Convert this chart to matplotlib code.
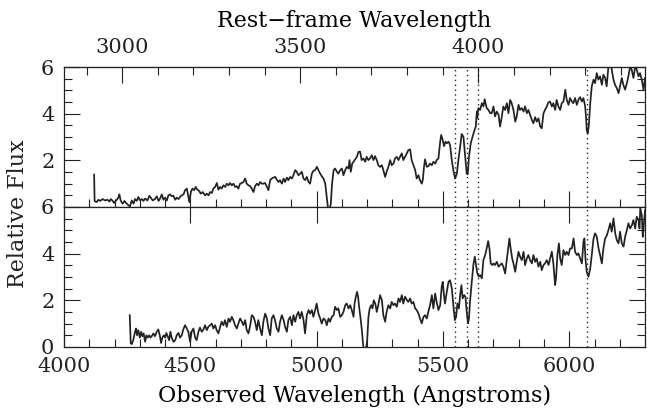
import matplotlib.pyplot as plt
from matplotlib.ticker import MultipleLocator, FixedLocator

# redshift used for the rest-frame axis on top
z = 0.41

# absorption features marked with dotted lines (rest frame, Angstroms)
line_rest = [3933.7, 3968.5, 4000.0, 4304.4]

# rest-frame tick marks on the top axis
rest_major = [3000, 3500, 4000]
rest_minor = [2900, 3100, 3200, 3300, 3400, 3600, 3700, 3800, 3900, 4100, 4200, 4300, 4400]

# (observed wavelength, relative flux) of the upper spectrum
upper_spec = [
    (4119, 1.39), (4121, 0.25), (4129, 0.21), (4136, 0.31), (4143, 0.26), (4153, 0.34),
    (4162, 0.28), (4172, 0.31), (4180, 0.23), (4185, 0.34), (4193, 0.26), (4198, 0.17),
    (4206, 0.28), (4215, 0.40), (4219, 0.54), (4224, 0.28), (4232, 0.14), (4239, 0.26),
    (4246, 0.17), (4255, 0.07), (4261, 0.03), (4268, 0.28), (4275, 0.14), (4281, 0.34),
    (4288, 0.26), (4294, 0.43), (4301, 0.28), (4308, 0.34), (4314, 0.26), (4321, 0.36),
    (4330, 0.28), (4338, 0.48), (4343, 0.40), (4351, 0.28), (4360, 0.34), (4367, 0.46),
    (4374, 0.26), (4380, 0.36), (4387, 0.54), (4393, 0.31), (4400, 0.40), (4407, 0.28),
    (4413, 0.50), (4420, 0.54), (4426, 0.46), (4433, 0.48), (4440, 0.31), (4446, 0.40),
    (4453, 0.34), (4459, 0.43), (4466, 0.50), (4473, 0.54), (4479, 0.72), (4486, 0.79),
    (4492, 0.43), (4496, 0.21), (4502, 0.64), (4508, 0.79), (4515, 0.72), (4521, 0.86),
    (4528, 0.74), (4535, 0.69), (4541, 0.57), (4549, 0.64), (4558, 0.50), (4565, 0.57),
    (4572, 0.50), (4578, 0.64), (4585, 0.60), (4591, 0.79), (4598, 0.86), (4605, 1.03),
    (4611, 0.74), (4618, 0.86), (4624, 0.79), (4631, 0.93), (4638, 0.86), (4644, 1.00),
    (4651, 0.93), (4657, 1.03), (4664, 0.93), (4671, 1.00), (4677, 0.86), (4684, 0.89),
    (4690, 0.79), (4697, 1.00), (4704, 1.03), (4710, 1.07), (4717, 1.22), (4723, 1.00),
    (4730, 0.93), (4737, 0.89), (4743, 0.79), (4750, 0.64), (4756, 0.89), (4763, 1.00),
    (4770, 0.93), (4776, 1.07), (4783, 1.00), (4789, 1.00), (4796, 1.03), (4803, 0.86),
    (4809, 0.72), (4816, 1.15), (4822, 1.22), (4829, 1.26), (4836, 1.29), (4842, 1.17),
    (4849, 1.07), (4855, 1.15), (4862, 1.00), (4869, 1.22), (4875, 1.07), (4882, 1.26),
    (4888, 1.15), (4895, 1.29), (4902, 1.22), (4908, 1.36), (4915, 1.58), (4921, 1.51),
    (4928, 1.36), (4935, 1.43), (4941, 1.51), (4948, 1.22), (4954, 1.15), (4961, 1.29),
    (4968, 1.07), (4974, 1.00), (4981, 1.43), (4987, 1.55), (4994, 1.58), (5001, 1.72),
    (5007, 1.58), (5014, 1.43), (5020, 1.32), (5027, 1.22), (5034, 1.00), (5040, 0.43),
    (5045, -0.07), (5051, -0.10), (5056, 0.14), (5061, 1.00), (5067, 1.58), (5073, 1.65),
    (5080, 1.51), (5086, 1.43), (5093, 1.58), (5100, 1.65), (5106, 1.36), (5113, 1.58),
    (5119, 1.72), (5126, 1.65), (5130, 2.01), (5135, 1.51), (5141, 1.87), (5146, 1.94),
    (5152, 2.04), (5159, 2.15), (5166, 2.37), (5172, 2.37), (5178, 2.01), (5185, 2.08),
    (5192, 1.94), (5198, 2.15), (5205, 2.01), (5211, 2.08), (5218, 2.22), (5225, 2.01),
    (5231, 2.18), (5238, 2.01), (5244, 1.79), (5251, 1.72), (5258, 1.79), (5264, 1.58),
    (5271, 1.29), (5277, 1.51), (5284, 1.72), (5291, 2.01), (5297, 1.79), (5304, 1.86),
    (5310, 2.08), (5317, 2.15), (5324, 2.01), (5330, 2.15), (5337, 2.30), (5343, 2.01),
    (5350, 2.15), (5357, 2.30), (5363, 2.44), (5370, 2.47), (5376, 2.01), (5383, 1.79),
    (5390, 1.58), (5396, 1.22), (5403, 1.36), (5409, 1.15), (5416, 1.00), (5420, 1.15),
    (5425, 1.72), (5429, 2.04), (5436, 1.72), (5442, 1.75), (5449, 1.86), (5456, 1.79),
    (5462, 1.94), (5469, 1.86), (5475, 2.01), (5482, 2.08), (5489, 2.80), (5493, 3.09),
    (5499, 2.87), (5504, 2.61), (5510, 2.80), (5515, 2.73), (5522, 2.80), (5528, 2.66),
    (5535, 2.01), (5541, 1.58), (5548, 1.22), (5555, 1.43), (5561, 2.01), (5568, 2.58),
    (5574, 3.13), (5581, 3.01), (5588, 2.15), (5594, 1.43), (5598, 1.40), (5603, 2.15),
    (5610, 2.73), (5617, 3.01), (5623, 3.23), (5630, 3.45), (5634, 4.09), (5636, 3.81),
    (5640, 4.24), (5647, 4.16), (5654, 4.45), (5660, 4.31), (5665, 4.62), (5673, 4.24),
    (5680, 4.16), (5687, 4.02), (5693, 4.02), (5700, 4.31), (5706, 3.88), (5713, 4.09),
    (5720, 3.95), (5726, 3.45), (5733, 3.88), (5739, 4.31), (5746, 4.16), (5753, 4.45),
    (5759, 4.02), (5766, 4.59), (5772, 4.45), (5779, 4.16), (5786, 3.66), (5792, 3.88),
    (5799, 4.38), (5805, 4.16), (5812, 4.24), (5819, 4.09), (5825, 4.31), (5832, 4.02),
    (5838, 4.16), (5845, 3.95), (5852, 3.73), (5858, 3.59), (5865, 3.85), (5871, 3.66),
    (5878, 3.80), (5885, 3.45), (5891, 3.37), (5898, 4.02), (5904, 4.16), (5911, 4.31),
    (5917, 4.48), (5924, 4.52), (5931, 4.31), (5937, 4.45), (5944, 4.16), (5950, 4.59),
    (5957, 4.31), (5964, 4.16), (5970, 4.45), (5977, 4.52), (5984, 5.03), (5990, 4.59),
    (5997, 4.38), (6003, 4.67), (6010, 4.52), (6016, 4.45), (6023, 4.67), (6030, 4.38),
    (6036, 4.59), (6043, 4.71), (6050, 4.52), (6056, 4.67), (6063, 4.31), (6067, 3.73),
    (6069, 3.30), (6073, 3.16), (6077, 3.45), (6083, 4.45), (6089, 5.17), (6096, 5.46),
    (6102, 5.31), (6109, 5.74), (6115, 5.46), (6122, 5.60), (6129, 5.24), (6135, 5.67),
    (6142, 5.53), (6148, 5.17), (6155, 6.03), (6159, 6.40), (6164, 6.20), (6168, 5.89),
    (6175, 5.46), (6181, 5.24), (6188, 5.10), (6195, 4.88), (6201, 5.17), (6208, 5.53),
    (6214, 5.24), (6221, 5.03), (6228, 5.31), (6234, 5.60), (6241, 6.03), (6247, 5.89),
    (6254, 5.53), (6261, 6.03), (6267, 5.89), (6274, 5.60), (6280, 5.74), (6287, 5.46),
    (6294, 5.03), (6300, 5.53),
]

# (observed wavelength, relative flux) of the lower spectrum
lower_spec = [
    (4260, 1.36), (4264, 0.15), (4268, 0.12), (4274, 0.29), (4281, 0.65), (4285, 0.79),
    (4289, 0.50), (4294, 0.72), (4300, 0.40), (4305, 0.65), (4310, 0.46), (4315, 0.58),
    (4321, 0.22), (4326, 0.50), (4331, 0.40), (4337, 0.50), (4342, 0.40), (4347, 0.46),
    (4354, 0.58), (4360, 0.46), (4367, 0.65), (4373, 0.75), (4379, 0.50), (4384, 0.17),
    (4389, 0.40), (4395, 0.50), (4400, 0.40), (4405, 0.60), (4410, 0.46), (4416, 0.29),
    (4421, 0.65), (4426, 0.40), (4433, 0.22), (4440, 0.29), (4446, 0.50), (4453, 0.60),
    (4459, 0.40), (4466, 0.50), (4472, 0.75), (4479, 0.93), (4486, 0.79), (4492, 0.65),
    (4499, 0.22), (4505, 0.65), (4512, 0.79), (4519, 0.40), (4525, 0.29), (4532, 0.65),
    (4538, 0.83), (4545, 0.65), (4552, 0.75), (4558, 0.93), (4565, 0.72), (4571, 0.86),
    (4578, 0.93), (4585, 1.00), (4591, 0.79), (4598, 0.93), (4604, 0.72), (4611, 0.58),
    (4618, 0.86), (4624, 1.08), (4631, 0.93), (4637, 1.15), (4644, 0.86), (4651, 1.22),
    (4657, 1.08), (4664, 1.29), (4670, 1.15), (4677, 0.93), (4684, 0.79), (4690, 1.00),
    (4697, 1.22), (4704, 1.08), (4710, 0.93), (4717, 1.15), (4723, 0.72), (4730, 0.58),
    (4737, 0.93), (4743, 1.36), (4750, 1.29), (4756, 1.08), (4763, 0.72), (4769, 1.15),
    (4776, 0.79), (4783, 0.50), (4789, 1.08), (4796, 1.43), (4803, 1.22), (4809, 0.79),
    (4816, 0.50), (4822, 1.22), (4829, 1.36), (4835, 1.15), (4842, 0.79), (4849, 0.65),
    (4855, 1.08), (4862, 1.36), (4869, 1.15), (4875, 0.86), (4882, 0.65), (4888, 1.15),
    (4895, 1.29), (4902, 0.93), (4908, 1.36), (4915, 1.08), (4921, 1.36), (4928, 1.50),
    (4934, 1.22), (4941, 1.50), (4948, 1.15), (4954, 0.58), (4961, 1.36), (4968, 1.58),
    (4974, 1.43), (4981, 1.58), (4987, 1.29), (4994, 1.58), (5000, 1.86), (5007, 1.43),
    (5014, 1.22), (5020, 1.00), (5027, 1.22), (5034, 1.15), (5040, 0.93), (5047, 1.22),
    (5053, 1.08), (5060, 1.29), (5067, 1.36), (5073, 1.72), (5080, 1.58), (5086, 1.65),
    (5093, 1.29), (5100, 1.36), (5106, 1.50), (5113, 1.79), (5119, 1.86), (5126, 1.65),
    (5133, 1.79), (5139, 1.58), (5146, 1.29), (5150, 1.86), (5155, 2.15), (5160, 2.36),
    (5164, 2.15), (5168, 1.72), (5173, 1.29), (5179, 0.72), (5184, 0.07), (5189, -0.14),
    (5195, -0.14), (5200, 0.29), (5205, 1.29), (5210, 1.65), (5216, 1.79), (5221, 1.65),
    (5226, 2.00), (5232, 1.86), (5238, 1.50), (5245, 1.86), (5251, 2.22), (5258, 2.01),
    (5264, 1.36), (5271, 1.08), (5277, 1.51), (5284, 1.79), (5291, 1.65), (5297, 1.93),
    (5304, 1.79), (5310, 1.86), (5317, 1.72), (5324, 2.08), (5330, 1.93), (5337, 2.22),
    (5343, 1.86), (5350, 2.15), (5357, 2.01), (5363, 1.93), (5370, 2.08), (5376, 1.86),
    (5383, 1.93), (5390, 1.65), (5396, 1.58), (5403, 1.43), (5409, 1.22), (5416, 1.01),
    (5423, 1.29), (5429, 1.36), (5436, 1.22), (5442, 1.51), (5449, 1.79), (5456, 2.22),
    (5462, 1.65), (5469, 2.29), (5475, 1.93), (5482, 1.58), (5489, 1.79), (5495, 2.58),
    (5499, 2.79), (5504, 2.22), (5508, 1.86), (5515, 2.36), (5522, 2.79), (5528, 2.86),
    (5535, 2.51), (5541, 1.79), (5547, 1.15), (5552, 1.29), (5557, 1.86), (5563, 1.65),
    (5568, 2.22), (5573, 2.65), (5578, 2.08), (5584, 2.22), (5589, 2.15), (5594, 1.51),
    (5599, 1.01), (5603, 1.22), (5607, 1.93), (5614, 2.79), (5621, 3.58), (5626, 3.87),
    (5631, 3.51), (5636, 3.15), (5642, 3.01), (5647, 3.08), (5654, 2.94), (5660, 3.72),
    (5667, 3.94), (5673, 4.22), (5679, 4.54), (5684, 4.22), (5689, 3.58), (5695, 3.51),
    (5700, 3.58), (5706, 3.51), (5713, 3.65), (5720, 3.44), (5726, 3.51), (5733, 3.58),
    (5739, 3.44), (5746, 3.15), (5753, 3.79), (5759, 4.30), (5763, 4.65), (5768, 4.22),
    (5774, 3.79), (5779, 3.58), (5786, 3.22), (5792, 3.65), (5799, 4.08), (5805, 3.87),
    (5812, 3.72), (5819, 4.08), (5825, 3.51), (5832, 3.79), (5838, 3.94), (5845, 3.72),
    (5852, 3.58), (5858, 3.94), (5865, 3.65), (5871, 3.79), (5878, 3.44), (5885, 3.65),
    (5891, 3.29), (5898, 3.51), (5904, 3.58), (5911, 3.72), (5918, 3.51), (5924, 3.79),
    (5931, 4.08), (5937, 3.58), (5944, 2.65), (5948, 3.01), (5953, 3.94), (5959, 4.44),
    (5964, 3.79), (5970, 3.51), (5977, 4.15), (5984, 3.94), (5990, 4.08), (5997, 3.94),
    (6003, 4.22), (6010, 4.22), (6017, 4.65), (6023, 4.08), (6030, 3.94), (6036, 4.01),
    (6043, 3.79), (6050, 3.58), (6056, 4.51), (6060, 4.65), (6064, 3.79), (6069, 3.22),
    (6076, 3.01), (6083, 3.37), (6089, 3.94), (6096, 4.65), (6102, 4.87), (6109, 4.72),
    (6116, 4.22), (6122, 3.94), (6129, 3.58), (6135, 4.22), (6142, 4.65), (6149, 4.79),
    (6155, 5.01), (6162, 5.30), (6168, 4.94), (6175, 5.51), (6182, 4.87), (6188, 4.58),
    (6195, 4.44), (6201, 4.94), (6208, 4.44), (6215, 4.30), (6221, 4.72), (6228, 5.01),
    (6234, 5.30), (6241, 5.08), (6248, 5.22), (6254, 5.44), (6261, 5.08), (6267, 5.58),
    (6274, 5.44), (6278, 5.08), (6281, 5.94), (6287, 5.65), (6291, 4.72), (6294, 5.08),
    (6300, 5.87),
]

ink = '#222222'
plt.rcParams['font.family'] = 'DejaVu Serif'
plt.rcParams['text.color'] = ink

fig = plt.figure(figsize=(6.47, 4.19), dpi=100)
ax_top = fig.add_axes([0.099, 0.506, 0.898, 0.334])
ax_bot = fig.add_axes([0.099, 0.172, 0.898, 0.334], sharex=ax_top)


def style(ax):
    for s in ax.spines.values():
        s.set_color(ink)
        s.set_linewidth(0.9)
    ax.xaxis.set_major_locator(MultipleLocator(500))
    ax.xaxis.set_minor_locator(MultipleLocator(100))
    ax.yaxis.set_minor_locator(MultipleLocator(0.5))
    ax.tick_params(which='both', direction='in', right=True, color=ink,
                   width=0.8, labelsize=15, labelcolor=ink, pad=7)
    ax.tick_params(which='major', length=11.5)
    ax.tick_params(which='minor', length=5.8)
    ax.set_ylim(0, 6)


for ax, spec in ((ax_top, upper_spec), (ax_bot, lower_spec)):
    wave = [w for w, f in spec]
    flux = [f for w, f in spec]
    ax.plot(wave, flux, color=ink, lw=1.25)
    for lr in line_rest:
        ax.axvline(lr * (1 + z), color=ink, lw=1.0, ls=(0, (1, 2.5)))
    style(ax)

ax_top.set_xlim(4000, 6300)
ax_top.set_yticks([0, 2, 4, 6], ['', '2', '4', '6'])
ax_top.tick_params(labelbottom=False, top=False)
ax_bot.set_yticks([0, 2, 4, 6], ['0', '2', '4', '6'])
ax_bot.tick_params(top=True)
ax_bot.set_xlabel('Observed Wavelength (Angstroms)', fontsize=16, labelpad=7)

# rest-frame wavelength scale along the top
rest = ax_top.secondary_xaxis('top', functions=(lambda x: x / (1 + z),
                                                lambda x: x * (1 + z)))
rest.xaxis.set_major_locator(FixedLocator(rest_major))
rest.xaxis.set_minor_locator(FixedLocator(rest_minor))
rest.tick_params(which='both', direction='in', color=ink, width=0.8,
                 labelsize=15, labelcolor=ink, pad=7)
rest.tick_params(which='major', length=11.5)
rest.tick_params(which='minor', length=5.8)
rest.spines['top'].set_color(ink)
rest.set_xlabel('Rest\u2212frame Wavelength', fontsize=16, labelpad=8)

fig.text(0.028, 0.49, 'Relative Flux', rotation=90, ha='center', va='center',
         fontsize=16)

fig.savefig('out.png', dpi=100)
